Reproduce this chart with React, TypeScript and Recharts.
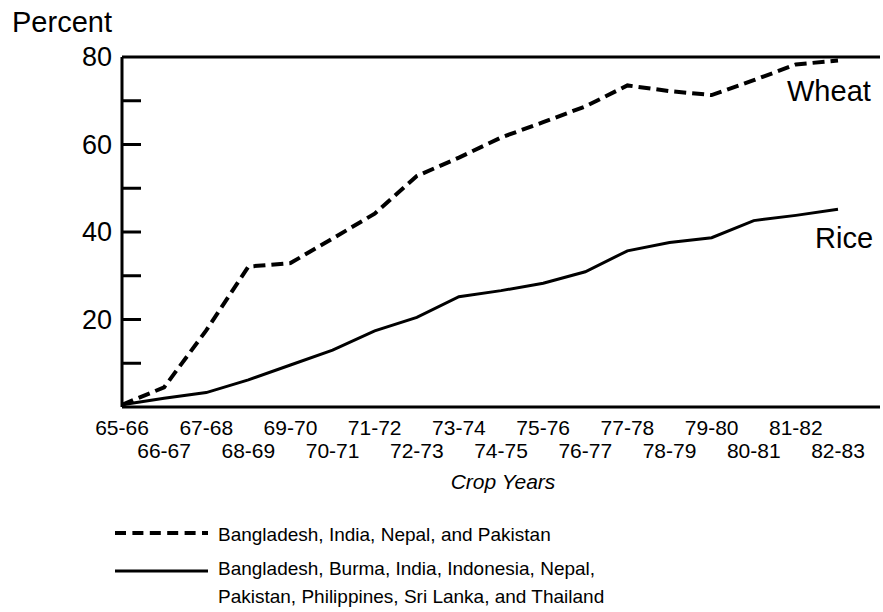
import { LineChart, Line, XAxis, YAxis, ReferenceLine } from "recharts";

const cropYears = [
  "65-66", "66-67", "67-68", "68-69", "69-70", "70-71", "71-72", "72-73", "73-74",
  "74-75", "75-76", "76-77", "77-78", "78-79", "79-80", "80-81", "81-82", "82-83",
];
const wheatShare = [0.5, 4.5, 17.5, 32.1, 32.9, 38.5, 44.2, 52.8, 57.0, 61.6, 65.1, 68.7, 73.5, 72.2, 71.3, 74.7, 78.3, 79.2];
const riceShare = [0.5, 2.0, 3.3, 6.2, 9.6, 13.0, 17.4, 20.5, 25.2, 26.6, 28.3, 30.9, 35.7, 37.6, 38.7, 42.6, 43.8, 45.2];
const yTicks = [0, 10, 20, 30, 40, 50, 60, 70, 80];

const FONT = "'Liberation Sans', Arial, Helvetica, sans-serif";

const data = cropYears.map((year, i) => ({ year, wheat: wheatShare[i], rice: riceShare[i] }));

// two staggered rows of year labels
const YearTick = (props: any) => {
  const { x, y, payload, index } = props;
  const dy = index % 2 === 0 ? 28 : 51;
  return (
    <text x={x} y={y + dy} textAnchor="middle" fontSize={21} fontFamily={FONT} fill="#000">
      {payload.value}
    </text>
  );
};

// inward tick marks every 10, labels every 20
const PercentTick = (props: any) => {
  const { x, y, payload } = props;
  const v = payload.value;
  return (
    <g>
      {v > 0 && v < 80 && <line x1={x + 10} x2={x + 29} y1={y} y2={y} stroke="#000" strokeWidth={3} />}
      {v > 0 && v % 20 === 0 && (
        <text x={x} y={y} dy={9} textAnchor="end" fontSize={27} fontFamily={FONT} fill="#000">
          {v}
        </text>
      )}
    </g>
  );
};

const App = () => {
  return (
    <div style={{ position: "absolute", left: 0, top: 0, width: 883, height: 612, background: "#fff" }}>
      <LineChart width={883} height={612} data={data} margin={{ top: 57, right: 3, bottom: 0, left: 0 }}>
        <XAxis
          dataKey="year"
          height={205}
          interval={0}
          padding={{ left: 0, right: 42 }}
          axisLine={{ stroke: "#000", strokeWidth: 3 }}
          tickLine={false}
          tickSize={0}
          tickMargin={0}
          tick={<YearTick />}
        />
        <YAxis
          type="number"
          domain={[0, 80]}
          ticks={yTicks}
          width={122}
          axisLine={{ stroke: "#000", strokeWidth: 3 }}
          tickLine={false}
          tickSize={0}
          tickMargin={10}
          tick={<PercentTick />}
        />
        <ReferenceLine y={80} stroke="#000" strokeWidth={3} />
        <Line
          type="linear"
          dataKey="wheat"
          stroke="#000"
          strokeWidth={4}
          strokeDasharray="12 6"
          dot={false}
          activeDot={false}
          isAnimationActive={false}
        />
        <Line
          type="linear"
          dataKey="rice"
          stroke="#000"
          strokeWidth={3}
          dot={false}
          activeDot={false}
          isAnimationActive={false}
        />
      </LineChart>

      {/* titles, series labels and legend */}
      <svg width={883} height={612} style={{ position: "absolute", left: 0, top: 0, pointerEvents: "none" }} fontFamily={FONT}>
        <text x={12} y={32} fontSize={29} fill="#000">Percent</text>
        <text x={787} y={101} fontSize={29} fill="#000">Wheat</text>
        <text x={815} y={248} fontSize={29} fill="#000">Rice</text>
        <text x={503} y={489} fontSize={21} fontStyle="italic" textAnchor="middle" fill="#000">Crop Years</text>

        <line x1={115} x2={208} y1={533} y2={533} stroke="#000" strokeWidth={4} strokeDasharray="11 6.4" />
        <text x={218} y={541} fontSize={19} fill="#000">Bangladesh, India, Nepal, and Pakistan</text>

        <line x1={115} x2={208} y1={571} y2={571} stroke="#000" strokeWidth={3} />
        <text x={218} y={575} fontSize={19} fill="#000">Bangladesh, Burma, India, Indonesia, Nepal,</text>
        <text x={218} y={603} fontSize={19} fill="#000">Pakistan, Philippines, Sri Lanka, and Thailand</text>
      </svg>
    </div>
  );
};

export default App;
